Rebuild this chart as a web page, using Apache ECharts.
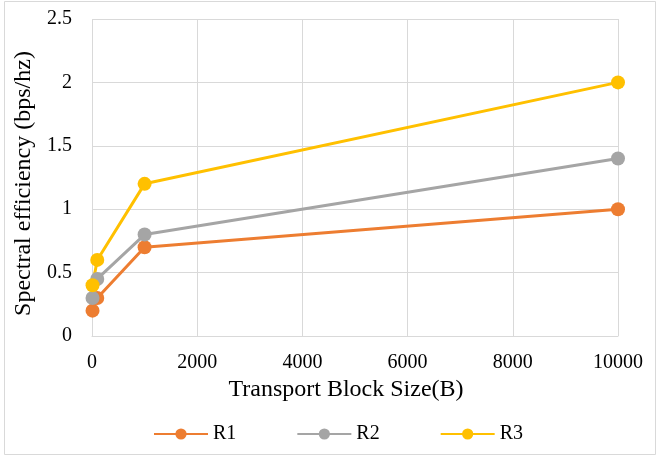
<!DOCTYPE html>
<html>
<head>
<meta charset="utf-8">
<script src="https://cdn.jsdelivr.net/npm/echarts@6/dist/echarts.min.js"></script>
<style>
  html, body { margin: 0; padding: 0; background: #fff; }
  #chart { width: 657px; height: 456px; }
</style>
</head>
<body>
<div id="chart"></div>
<script>
// Transport block sizes (bytes) and spectral efficiency for each configuration
const blockSizes = [10, 100, 1000, 10000];
const r1 = [0.2, 0.3, 0.7, 1.0];
const r2 = [0.3, 0.45, 0.8, 1.4];
const r3 = [0.4, 0.6, 1.2, 2.0];
const seriesNames = ['R1', 'R2', 'R3'];
const seriesColors = ['#ED7D31', '#A5A5A5', '#FFC000'];

const font = '"Liberation Serif", "Times New Roman", serif';
const gridGray = '#D9D9D9';

function pairs(ys) {
  return blockSizes.map((x, i) => [x, ys[i]]);
}

const chart = echarts.init(document.getElementById('chart'), null, { renderer: 'canvas' });

chart.setOption({
  backgroundColor: '#fff',
  animation: false,
  graphic: [{
    type: 'rect',
    shape: { x: 4.5, y: 1.5, width: 651, height: 453 },
    style: { fill: 'none', stroke: gridGray, lineWidth: 1 },
    silent: true
  }],
  grid: { left: 92, right: 39, top: 19, bottom: 120 },
  xAxis: {
    type: 'value',
    min: 0, max: 10000, interval: 2000,
    name: 'Transport Block Size(B)',
    nameLocation: 'middle',
    nameGap: 42,
    nameTextStyle: { fontFamily: font, fontSize: 24, color: '#000', padding: [0, 18, 0, 0] },
    axisLine: { show: true, lineStyle: { color: gridGray, width: 1 } },
    axisTick: { show: false },
    axisLabel: { fontFamily: font, fontSize: 20, color: '#000', margin: 17, formatter: v => String(v) },
    splitLine: { show: true, lineStyle: { color: gridGray, width: 1 } }
  },
  yAxis: {
    type: 'value',
    min: 0, max: 2.5, interval: 0.5,
    name: 'Spectral efficiency (bps/hz)',
    nameLocation: 'middle',
    nameGap: 41,
    nameTextStyle: { fontFamily: font, fontSize: 24, color: '#000', padding: [0, 12, 0, 0] },
    axisLine: { show: false },
    axisTick: { show: false },
    axisLabel: { fontFamily: font, fontSize: 20, color: '#000', margin: 20, formatter: v => String(v) },
    splitLine: { show: true, lineStyle: { color: gridGray, width: 1 } }
  },
  legend: {
    left: 148,
    top: 419,
    itemWidth: 54,
    itemHeight: 14,
    itemGap: 60,
    itemTextGap: 5,
    textStyle: { fontFamily: font, fontSize: 20, color: '#000' },
    data: seriesNames
  },
  series: [r1, r2, r3].map((ys, i) => ({
    name: seriesNames[i],
    type: 'line',
    data: pairs(ys),
    color: seriesColors[i],
    symbol: 'circle',
    symbolSize: 14,
    lineStyle: { width: 3, color: seriesColors[i] },
    itemStyle: { color: seriesColors[i] }
  }))
});
</script>
</body>
</html>
